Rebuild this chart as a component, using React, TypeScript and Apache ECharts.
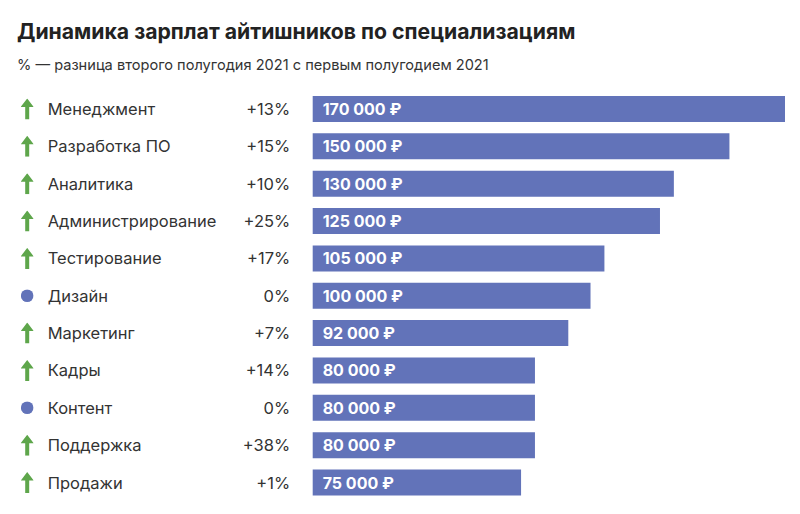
import React, { useEffect, useRef } from "react";
import * as echarts from "echarts";

const titleText = "Динамика зарплат айтишников по специализациям";
const subtitleText = "% — разница второго полугодия 2021 с первым полугодием 2021";
const categories = [
  "Менеджмент",
  "Разработка ПО",
  "Аналитика",
  "Администрирование",
  "Тестирование",
  "Дизайн",
  "Маркетинг",
  "Кадры",
  "Контент",
  "Поддержка",
  "Продажи",
];
const salaries = [170000, 150000, 130000, 125000, 105000, 100000, 92000, 80000, 80000, 80000, 75000];
const changes = [13, 15, 10, 25, 17, 0, 7, 14, 0, 38, 1];

const BAR = "#6273b9";
const GREEN = "#5ea64b";
const FONT = 'Inter, "Noto Sans", "DejaVu Sans", sans-serif';

const arrowSvg =
  "data:image/svg+xml;utf8," +
  encodeURIComponent(
    `<svg xmlns="http://www.w3.org/2000/svg" width="13" height="21" viewBox="0 0 13 21"><path d="M6.5 0 L13 8.5 L8.5 8.5 L8.5 21 L4.5 21 L4.5 8.5 L0 8.5 Z" fill="${GREEN}"/></svg>`
  );
const dotSvg =
  "data:image/svg+xml;utf8," +
  encodeURIComponent(
    `<svg xmlns="http://www.w3.org/2000/svg" width="13" height="13" viewBox="0 0 13 13"><circle cx="6.5" cy="6.5" r="6.3" fill="${BAR}"/></svg>`
  );

const fmtMoney = (v: number) =>
  String(v).replace(/\B(?=(\d{3})+(?!\d))/g, " ") + " ₽";
const fmtPct = (c: number) => (c > 0 ? `+${c}%` : `${c}%`);

export default function App() {
  const ref = useRef<HTMLDivElement>(null);
  useEffect(() => {
    if (!ref.current) return;
    const chart = echarts.init(ref.current, null, { renderer: "svg" });
    chart.setOption({
      animation: false,
      backgroundColor: "#ffffff",
      title: [
        {
          text: titleText,
          left: 12,
          top: 15,
          textStyle: { fontFamily: FONT, fontSize: 21.2, fontWeight: "bold", color: "#222222" },
        },
        {
          text: subtitleText,
          left: 12,
          top: 52,
          textStyle: { fontFamily: FONT, fontSize: 14.6, fontWeight: "normal", color: "#333333" },
        },
      ],
      grid: { left: 312.7, right: 15, top: 90.3, bottom: 12.8, containLabel: false },
      xAxis: { type: "value", min: 0, max: 170000, show: false },
      yAxis: [
        {
          type: "category",
          inverse: true,
          position: "left",
          data: categories,
          axisLine: { show: false },
          axisTick: { show: false },
          axisLabel: {
            align: "left",
            margin: 292,
            formatter: (value: string, idx: number) =>
              (changes[idx] > 0 ? "{up|}" : "{dot|}") + "{name|" + value + "}",
            rich: {
              up: { width: 13, height: 21, backgroundColor: { image: arrowSvg } },
              dot: { width: 13, height: 13, backgroundColor: { image: dotSvg } },
              name: {
                fontFamily: FONT,
                fontSize: 16.5,
                color: "#333333",
                padding: [0, 0, 0, 14],
              },
            },
          },
        },
        {
          type: "category",
          inverse: true,
          position: "left",
          offset: 0,
          data: changes.map(fmtPct),
          axisLine: { show: false },
          axisTick: { show: false },
          axisLabel: {
            align: "right",
            margin: 22.5,
            fontFamily: FONT,
            fontSize: 16.5,
            color: "#333333",
          },
        },
      ],
      series: [
        {
          type: "bar",
          yAxisIndex: 0,
          data: salaries,
          barWidth: 26,
          itemStyle: { color: BAR },
          label: {
            show: true,
            position: "insideLeft",
            distance: 10,
            formatter: (p: any) => fmtMoney(p.value),
            color: "#ffffff",
            fontFamily: FONT,
            fontSize: 16,
            fontWeight: "bold",
          },
        },
      ],
    });
    return () => chart.dispose();
  }, []);
  return (
    <div
      ref={ref}
      style={{ position: "fixed", left: 0, top: 0, width: 800, height: 514, background: "#fff" }}
    />
  );
}
